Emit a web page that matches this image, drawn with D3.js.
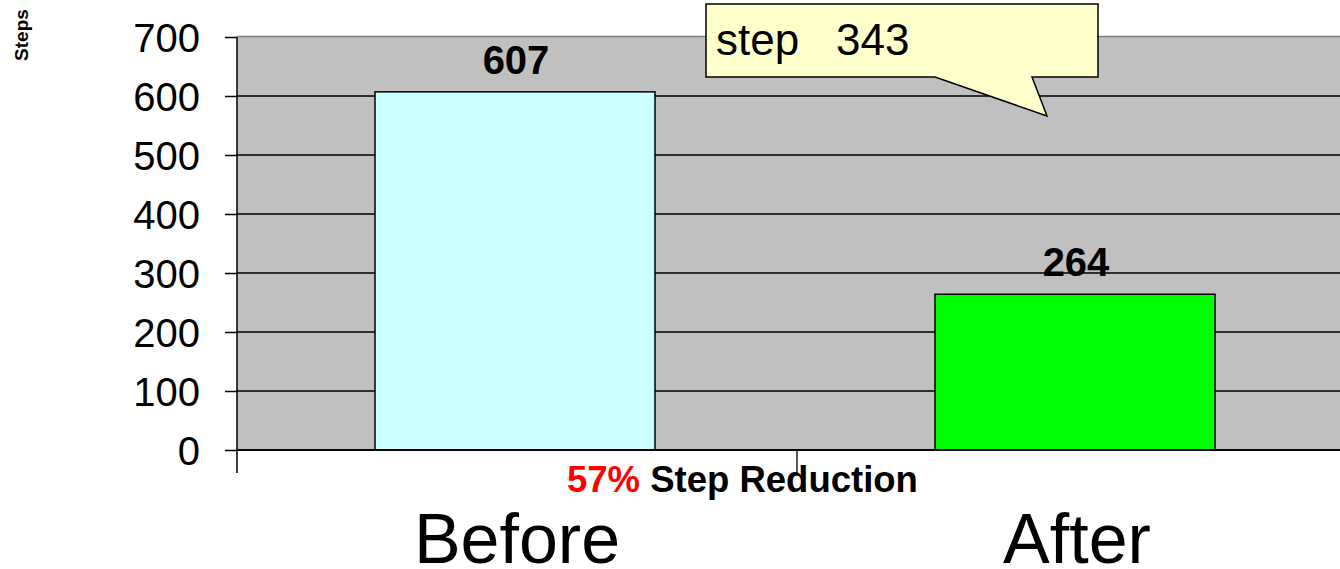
<!DOCTYPE html>
<html>
<head>
<meta charset="utf-8">
<script src="https://cdn.jsdelivr.net/npm/d3@7"></script>
<style>
  html, body { margin: 0; padding: 0; background: #ffffff; }
  svg { display: block; font-family: "Liberation Sans", Arial, sans-serif; }
</style>
</head>
<body>
<svg id="chart" width="1340" height="569"></svg>
<script>
// ---- data ----
const categories = ["Before", "After"];
const values = [607, 264];
const barColors = ["#ccffff", "#00ff00"];
const yTicks = [0, 100, 200, 300, 400, 500, 600, 700];
const yTitle = "Steps";
const calloutLabel = "step";
const calloutValue = 343;
const reductionPct = "57%";
const reductionText = "Step Reduction";

// ---- layout ----
const W = 1340, H = 569;
const plotLeft = 237, plotRight = 1357, plotTop = 37, plotBottom = 450;

const svg = d3.select("#chart");

const x = d3.scaleBand()
  .domain(categories)
  .range([plotLeft - 2, plotRight - 2])
  .paddingInner(0.5)
  .paddingOuter(0.25);

const y = d3.scaleLinear().domain([0, 700]).range([plotBottom, plotTop]);

// plot background
svg.append("rect")
  .attr("x", plotLeft).attr("y", y(700))
  .attr("width", plotRight - plotLeft).attr("height", y(0) - y(700))
  .attr("fill", "#c0c0c0");

// top border
svg.append("line")
  .attr("x1", plotLeft).attr("x2", plotRight)
  .attr("y1", y(700) - 0.5).attr("y2", y(700) - 0.5)
  .attr("stroke", "#808080").attr("stroke-width", 1.5);

// gridlines
svg.append("g").selectAll("line")
  .data(yTicks.filter(t => t > 0 && t < 700))
  .join("line")
  .attr("x1", plotLeft).attr("x2", plotRight)
  .attr("y1", d => y(d)).attr("y2", d => y(d))
  .attr("stroke", "#000").attr("stroke-width", 1.3);

// y axis
const yAxis = svg.append("g")
  .attr("transform", `translate(${plotLeft},0)`)
  .call(d3.axisLeft(y).tickValues(yTicks).tickSize(12).tickPadding(25).tickFormat(d3.format("d")));
yAxis.select(".domain").attr("stroke", "#000").attr("stroke-width", 1.5)
  .attr("d", `M0,${y(700)}V${y(0) + 23}`);
yAxis.selectAll(".tick line").attr("stroke", "#000").attr("stroke-width", 1.5);
yAxis.selectAll(".tick text")
  .attr("font-family", "Liberation Sans, Arial, sans-serif")
  .attr("font-size", 40).attr("fill", "#000").attr("dy", "0.36em");

// bars
svg.append("g").selectAll("rect")
  .data(categories)
  .join("rect")
  .attr("x", d => x(d))
  .attr("y", (d, i) => y(values[i]))
  .attr("width", x.bandwidth())
  .attr("height", (d, i) => y(0) - y(values[i]))
  .attr("fill", (d, i) => barColors[i])
  .attr("stroke", "#000").attr("stroke-width", 1.5);

// x axis line
svg.append("line")
  .attr("x1", plotLeft).attr("x2", plotRight)
  .attr("y1", y(0)).attr("y2", y(0))
  .attr("stroke", "#000").attr("stroke-width", 2);

// category tick (between categories)
svg.append("line")
  .attr("x1", x(categories[1]) - x.step() * 0.25 + 2)
  .attr("x2", x(categories[1]) - x.step() * 0.25 + 2)
  .attr("y1", y(0)).attr("y2", y(0) + 23)
  .attr("stroke", "#000").attr("stroke-width", 1.3);

// value labels
svg.append("g").selectAll("text")
  .data(categories)
  .join("text")
  .attr("x", d => x(d) + x.bandwidth() / 2 + 1)
  .attr("y", (d, i) => y(values[i]) - 18)
  .attr("text-anchor", "middle")
  .attr("font-size", 40).attr("font-weight", "bold").attr("fill", "#000")
  .text((d, i) => values[i]);

// category labels
svg.append("g").selectAll("text")
  .data(categories)
  .join("text")
  .attr("x", d => x(d) + x.bandwidth() / 2 + 2)
  .attr("y", 563)
  .attr("text-anchor", "middle")
  .attr("font-size", 70).attr("fill", "#000")
  .text(d => d);

// reduction label
const red = svg.append("text")
  .attr("x", 567).attr("y", 492)
  .attr("font-size", 36.5).attr("font-weight", "bold");
red.append("tspan").attr("fill", "#ff0000").text(reductionPct);
red.append("tspan").attr("fill", "#000").text(" " + reductionText);

// y title
svg.append("text")
  .attr("transform", "translate(28,35) rotate(-90)")
  .attr("text-anchor", "middle")
  .attr("font-size", 19).attr("font-weight", "bold").attr("fill", "#000")
  .text(yTitle);

// callout
const cb = { l: 706, r: 1098, t: 4, b: 77, p1: 935, p2: 1032, tipX: 1047, tipY: 116 };
svg.append("path")
  .attr("d", `M${cb.l},${cb.t}H${cb.r}V${cb.b}H${cb.p2}L${cb.tipX},${cb.tipY}L${cb.p1},${cb.b}H${cb.l}Z`)
  .attr("fill", "#ffffcc").attr("stroke", "#000").attr("stroke-width", 1.5)
  .attr("stroke-linejoin", "miter");
const ct = svg.append("text")
  .attr("x", 716).attr("y", 55)
  .attr("font-size", 44).attr("fill", "#000");
ct.append("tspan").text(calloutLabel);
ct.append("tspan").attr("x", 836).text(calloutValue);
</script>
</body>
</html>
